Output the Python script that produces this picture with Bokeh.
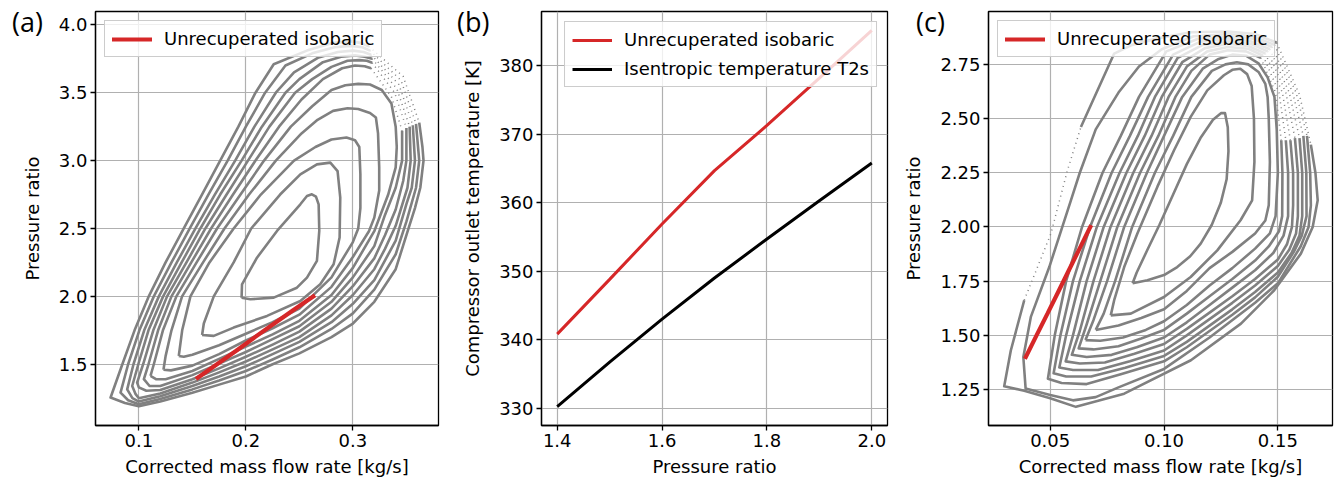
from bokeh.plotting import figure
from bokeh.models import Range1d, FixedTicker, Legend, LegendItem, GridBox, Div
from bokeh.embed import file_html
from bokeh.resources import INLINE

# ---------------- operating line / panel (b) data ----------------
pressure_ratio = [1.4, 1.5, 1.6, 1.7, 1.8, 1.9, 2.0]
t_out_unrecuperated = [340.8, 348.8, 356.9, 364.7, 371.3, 378.2, 385.2]
t_isentropic_t2s = [330.2, 336.7, 343.0, 349.0, 354.7, 360.3, 365.8]
mdot_a_unrecuperated = [0.155, 0.173, 0.191, 0.2085, 0.2265, 0.2445, 0.263]
mdot_c_unrecuperated = [0.0393, 0.0440, 0.0488, 0.0535, 0.0582, 0.0629, 0.0676]

# ---------------- ticks ----------------
a_xticks = [0.1, 0.2, 0.3]
a_xlabels = ["0.1", "0.2", "0.3"]
a_yticks = [1.5, 2.0, 2.5, 3.0, 3.5, 4.0]
a_ylabels = ["1.5", "2.0", "2.5", "3.0", "3.5", "4.0"]
b_xticks = [1.4, 1.6, 1.8, 2.0]
b_xlabels = ["1.4", "1.6", "1.8", "2.0"]
b_yticks = [330, 340, 350, 360, 370, 380]
b_ylabels = ["330", "340", "350", "360", "370", "380"]
c_xticks = [0.05, 0.10, 0.15]
c_xlabels = ["0.05", "0.10", "0.15"]
c_yticks = [1.25, 1.5, 1.75, 2.0, 2.25, 2.5, 2.75]
c_ylabels = ["1.25", "1.50", "1.75", "2.00", "2.25", "2.50", "2.75"]
panel_names = ["(a)", "(b)", "(c)"]

# ---------------- panel (a) map contours (mass flow, pressure ratio) ----------------
a_loop1 = [(0.1960, 1.990), (0.2042, 1.979), (0.2260, 1.991), (0.2477, 2.064), (0.2571, 2.138),
           (0.2664, 2.261), (0.2686, 2.482), (0.2680, 2.678), (0.2655, 2.735), (0.2617, 2.752),
           (0.2571, 2.739), (0.2509, 2.678), (0.2291, 2.482), (0.2104, 2.285), (0.1964, 2.089),
           (0.1960, 1.990)]
a_loop2 = [(0.1591, 1.716), (0.1700, 1.709), (0.1886, 1.770), (0.2198, 1.856), (0.2509, 1.966),
           (0.2695, 2.089), (0.2820, 2.236), (0.2876, 2.433), (0.2882, 2.727), (0.2857, 2.923),
           (0.2789, 2.985), (0.2664, 2.972), (0.2509, 2.899), (0.2320, 2.750), (0.2050, 2.500),
           (0.1886, 2.250), (0.1700, 2.000), (0.1607, 1.800), (0.1591, 1.716)]
a_loop3 = [(0.1373, 1.561), (0.1420, 1.555), (0.1500, 1.570), (0.1750, 1.640), (0.2000, 1.725),
           (0.2250, 1.810), (0.2500, 1.910), (0.2800, 2.140), (0.3000, 2.400), (0.3050, 2.500),
           (0.3070, 2.650), (0.3070, 2.900), (0.3060, 3.100), (0.3020, 3.150), (0.2940, 3.170),
           (0.2800, 3.155), (0.2650, 3.100), (0.2450, 3.000), (0.2140, 2.750), (0.1886, 2.500),
           (0.1660, 2.250), (0.1482, 2.000), (0.1405, 1.750), (0.1373, 1.561)]
a_loop4 = [(0.1230, 1.460), (0.1300, 1.455), (0.1500, 1.490), (0.1750, 1.575), (0.2000, 1.675),
           (0.2250, 1.765), (0.2500, 1.865), (0.2800, 2.070), (0.3000, 2.290), (0.3150, 2.480),
           (0.3200, 2.580), (0.3246, 2.780), (0.3246, 2.950), (0.3235, 3.200), (0.3215, 3.317),
           (0.3160, 3.350), (0.3050, 3.380), (0.2950, 3.385), (0.2815, 3.366), (0.2670, 3.300),
           (0.2520, 3.200), (0.2280, 3.000), (0.2030, 2.750), (0.1800, 2.500), (0.1600, 2.250),
           (0.1404, 2.000), (0.1305, 1.750), (0.1250, 1.560), (0.1230, 1.460)]
a_loop5 = [(0.1109, 1.414), (0.1160, 1.390), (0.1250, 1.390), (0.1500, 1.450), (0.1750, 1.540),
           (0.2000, 1.630), (0.2250, 1.720), (0.2500, 1.820), (0.2800, 2.010), (0.3000, 2.210),
           (0.3200, 2.480), (0.3330, 2.750), (0.3400, 2.950), (0.3410, 3.100), (0.3400, 3.250),
           (0.3360, 3.420), (0.3270, 3.520), (0.3160, 3.560), (0.3050, 3.565), (0.2930, 3.555),
           (0.2800, 3.520), (0.2620, 3.400), (0.2420, 3.250), (0.2170, 3.000), (0.1950, 2.750),
           (0.1731, 2.500), (0.1540, 2.250), (0.1351, 2.000), (0.1225, 1.750), (0.1140, 1.500),
           (0.1109, 1.414)]
a_loop6 = [(0.3460, 3.220), (0.3460, 3.000), (0.3400, 2.800), (0.3300, 2.600), (0.3200, 2.370),
           (0.3000, 2.140), (0.2800, 1.960), (0.2500, 1.780), (0.2250, 1.685), (0.2000, 1.590),
           (0.1750, 1.505), (0.1500, 1.420), (0.1200, 1.340), (0.1100, 1.340), (0.1047, 1.390),
           (0.1090, 1.500), (0.1180, 1.750), (0.1305, 2.000), (0.1490, 2.250), (0.1675, 2.500),
           (0.1880, 2.750), (0.2090, 3.000), (0.2310, 3.250), (0.2520, 3.450), (0.2720, 3.600),
           (0.2900, 3.680), (0.3020, 3.700), (0.3110, 3.695), (0.3170, 3.680)]
a_loop7 = [(0.3500, 3.240), (0.3500, 3.000), (0.3470, 2.850), (0.3400, 2.640), (0.3300, 2.450),
           (0.3200, 2.280), (0.3000, 2.075), (0.2800, 1.910), (0.2500, 1.740), (0.2250, 1.645),
           (0.2000, 1.555), (0.1750, 1.470), (0.1500, 1.390), (0.1200, 1.310), (0.1070, 1.305),
           (0.1000, 1.330), (0.0984, 1.365), (0.1040, 1.500), (0.1135, 1.750), (0.1264, 2.000),
           (0.1445, 2.250), (0.1622, 2.500), (0.1820, 2.750), (0.2020, 3.000), (0.2220, 3.250),
           (0.2460, 3.500), (0.2620, 3.600), (0.2800, 3.690), (0.2950, 3.735), (0.3060, 3.740),
           (0.3130, 3.735), (0.3180, 3.720)]
a_loop8 = [(0.3530, 3.250), (0.3540, 3.000), (0.3510, 2.800), (0.3400, 2.520), (0.3300, 2.350),
           (0.3200, 2.200), (0.3000, 2.010), (0.2800, 1.860), (0.2500, 1.700), (0.2250, 1.610),
           (0.2000, 1.520), (0.1750, 1.440), (0.1500, 1.365), (0.1200, 1.285), (0.1000, 1.250),
           (0.0970, 1.280), (0.0938, 1.340), (0.0995, 1.500), (0.1090, 1.750), (0.1227, 2.000),
           (0.1400, 2.250), (0.1575, 2.500), (0.1760, 2.750), (0.1960, 3.000), (0.2150, 3.250),
           (0.2370, 3.500), (0.2500, 3.600), (0.2720, 3.725), (0.2890, 3.765), (0.3020, 3.775),
           (0.3110, 3.765), (0.3180, 3.750)]
a_loop9 = [(0.3560, 3.260), (0.3580, 3.000), (0.3550, 2.800), (0.3500, 2.680), (0.3400, 2.410),
           (0.3200, 2.120), (0.3000, 1.945), (0.2800, 1.810), (0.2500, 1.665), (0.2250, 1.575),
           (0.2000, 1.485), (0.1750, 1.410), (0.1500, 1.340), (0.1200, 1.265), (0.1000, 1.225),
           (0.0940, 1.250), (0.0891, 1.315), (0.0950, 1.500), (0.1050, 1.750), (0.1187, 2.000),
           (0.1355, 2.250), (0.1529, 2.500), (0.1710, 2.750), (0.1900, 3.000), (0.2080, 3.250),
           (0.2280, 3.500), (0.2450, 3.650), (0.2680, 3.760), (0.2860, 3.800), (0.3000, 3.810),
           (0.3100, 3.800), (0.3170, 3.780)]
a_loop10 = [(0.3590, 3.270), (0.3620, 3.000), (0.3590, 2.800), (0.3500, 2.550), (0.3400, 2.310),
            (0.3200, 2.050), (0.3000, 1.875), (0.2800, 1.760), (0.2500, 1.625), (0.2250, 1.535),
            (0.2000, 1.450), (0.1750, 1.380), (0.1500, 1.315), (0.1200, 1.245), (0.1000, 1.205),
            (0.0900, 1.235), (0.0829, 1.291), (0.0900, 1.500), (0.1005, 1.750), (0.1140, 2.000),
            (0.1305, 2.250), (0.1476, 2.500), (0.1650, 2.750), (0.1830, 3.000), (0.2000, 3.250),
            (0.2180, 3.500), (0.2370, 3.700), (0.2620, 3.790), (0.2830, 3.835), (0.2980, 3.845),
            (0.3090, 3.835), (0.3160, 3.810)]
a_loop11 = [(0.3620, 3.280), (0.3650, 3.100), (0.3660, 3.000), (0.3630, 2.800), (0.3580, 2.650),
            (0.3520, 2.500), (0.3400, 2.200), (0.3200, 1.960), (0.3000, 1.800), (0.2800, 1.700),
            (0.2500, 1.580), (0.2250, 1.500), (0.2000, 1.410), (0.1750, 1.350), (0.1500, 1.290),
            (0.1200, 1.225), (0.1000, 1.190), (0.0870, 1.215), (0.0736, 1.255), (0.0846, 1.500),
            (0.0960, 1.750), (0.1093, 2.000), (0.1250, 2.250), (0.1420, 2.500), (0.1590, 2.750),
            (0.1760, 3.000), (0.1930, 3.250), (0.2090, 3.500), (0.2260, 3.710), (0.2570, 3.810),
            (0.2800, 3.865), (0.2980, 3.880), (0.3080, 3.865), (0.3150, 3.840)]
# sparsely sampled (dotted) stretches of the outer contours, near the choke side
a_sparse6 = [(0.3170, 3.680), (0.3360, 3.470), (0.3460, 3.220)]
a_sparse7 = [(0.3180, 3.720), (0.3390, 3.500), (0.3500, 3.240)]
a_sparse8 = [(0.3180, 3.750), (0.3410, 3.530), (0.3530, 3.250)]
a_sparse9 = [(0.3170, 3.780), (0.3430, 3.560), (0.3560, 3.260)]
a_sparse10 = [(0.3160, 3.810), (0.3450, 3.590), (0.3590, 3.270)]
a_sparse11 = [(0.3150, 3.840), (0.3470, 3.620), (0.3620, 3.280)]

# ---------------- panel (c) map contours ----------------
c_loop1 = [(0.0862, 1.740), (0.0927, 1.754), (0.1000, 1.778), (0.1058, 1.815), (0.1115, 1.865),
           (0.1161, 1.923), (0.1210, 2.010), (0.1249, 2.110), (0.1275, 2.220), (0.1283, 2.350),
           (0.1280, 2.460), (0.1268, 2.525), (0.1250, 2.525), (0.1215, 2.495), (0.1160, 2.410),
           (0.1100, 2.290), (0.1040, 2.150), (0.0980, 2.010), (0.0925, 1.890), (0.0880, 1.790),
           (0.0862, 1.740)]
c_loop2 = [(0.0766, 1.592), (0.0854, 1.600), (0.1000, 1.677), (0.1117, 1.769), (0.1234, 1.892),
           (0.1336, 2.031), (0.1387, 2.123), (0.1397, 2.300), (0.1395, 2.500), (0.1385, 2.650),
           (0.1365, 2.705), (0.1335, 2.730), (0.1300, 2.725), (0.1263, 2.700), (0.1190, 2.630),
           (0.1117, 2.508), (0.1044, 2.354), (0.0971, 2.186), (0.0883, 1.970), (0.0825, 1.815),
           (0.0781, 1.662), (0.0766, 1.592)]
c_loop3 = [(0.0700, 1.525), (0.0800, 1.545), (0.0900, 1.580), (0.1000, 1.620), (0.1100, 1.705),
           (0.1200, 1.810), (0.1300, 1.885), (0.1400, 1.970), (0.1445, 2.030), (0.1460, 2.100),
           (0.1465, 2.300), (0.1460, 2.500), (0.1455, 2.600), (0.1445, 2.660), (0.1415, 2.715),
           (0.1370, 2.750), (0.1320, 2.760), (0.1270, 2.750), (0.1210, 2.720), (0.1120, 2.600),
           (0.1040, 2.420), (0.0960, 2.250), (0.0860, 2.000), (0.0785, 1.750), (0.0735, 1.600),
           (0.0700, 1.525)]
c_loop4 = [(0.0655, 1.478), (0.0720, 1.475), (0.0820, 1.490), (0.0920, 1.525), (0.1000, 1.565),
           (0.1100, 1.640), (0.1200, 1.730), (0.1300, 1.810), (0.1400, 1.900), (0.1465, 1.970),
           (0.1490, 2.050), (0.1500, 2.250), (0.1495, 2.450), (0.1485, 2.600), (0.1455, 2.690),
           (0.1415, 2.755), (0.1360, 2.790), (0.1300, 2.795), (0.1240, 2.775), (0.1170, 2.730),
           (0.1080, 2.600), (0.1000, 2.420), (0.0925, 2.250), (0.0825, 2.000), (0.0750, 1.750),
           (0.0690, 1.570), (0.0655, 1.478)]
c_loop5 = [(0.1515, 2.400), (0.1520, 2.250), (0.1519, 2.050), (0.1505, 1.980), (0.1460, 1.910),
           (0.1400, 1.845), (0.1300, 1.760), (0.1200, 1.680), (0.1100, 1.600), (0.1000, 1.525),
           (0.0900, 1.485), (0.0800, 1.450), (0.0690, 1.435), (0.0625, 1.440), (0.0660, 1.550),
           (0.0720, 1.750), (0.0795, 2.000), (0.0895, 2.250), (0.0975, 2.420), (0.1050, 2.600),
           (0.1120, 2.720), (0.1200, 2.795), (0.1280, 2.815), (0.1360, 2.810), (0.1425, 2.780)]
c_loop6 = [(0.1535, 2.400), (0.1545, 2.250), (0.1545, 2.050), (0.1525, 1.960), (0.1480, 1.880),
           (0.1400, 1.800), (0.1300, 1.720), (0.1200, 1.640), (0.1100, 1.560), (0.1000, 1.490),
           (0.0880, 1.445), (0.0770, 1.410), (0.0660, 1.400), (0.0595, 1.410), (0.0630, 1.520),
           (0.0690, 1.750), (0.0765, 2.000), (0.0865, 2.250), (0.0945, 2.420), (0.1020, 2.600),
           (0.1100, 2.740), (0.1190, 2.810), (0.1280, 2.830), (0.1370, 2.822), (0.1435, 2.790)]
c_loop7 = [(0.1555, 2.400), (0.1567, 2.250), (0.1567, 2.100), (0.1562, 2.000), (0.1540, 1.920),
           (0.1500, 1.850), (0.1400, 1.760), (0.1300, 1.680), (0.1200, 1.605), (0.1100, 1.530),
           (0.1000, 1.460), (0.0870, 1.415), (0.0740, 1.375), (0.0630, 1.370), (0.0568, 1.380),
           (0.0600, 1.500), (0.0660, 1.750), (0.0735, 2.000), (0.0835, 2.250), (0.0915, 2.420),
           (0.0990, 2.600), (0.1080, 2.760), (0.1180, 2.825), (0.1280, 2.845), (0.1370, 2.835),
           (0.1445, 2.800)]
c_loop8 = [(0.1575, 2.410), (0.1588, 2.250), (0.1588, 2.050), (0.1580, 1.970), (0.1550, 1.895),
           (0.1500, 1.820), (0.1400, 1.730), (0.1300, 1.650), (0.1200, 1.575), (0.1100, 1.500),
           (0.1000, 1.430), (0.0850, 1.380), (0.0710, 1.340), (0.0600, 1.340), (0.0540, 1.352),
           (0.0570, 1.500), (0.0630, 1.750), (0.0705, 2.000), (0.0805, 2.250), (0.0885, 2.420),
           (0.0960, 2.600), (0.1060, 2.780), (0.1170, 2.840), (0.1280, 2.857), (0.1380, 2.845),
           (0.1455, 2.810)]
c_loop9 = [(0.1595, 2.410), (0.1607, 2.250), (0.1607, 2.050), (0.1595, 1.960), (0.1560, 1.880),
           (0.1500, 1.790), (0.1400, 1.700), (0.1300, 1.620), (0.1200, 1.545), (0.1100, 1.470),
           (0.1000, 1.405), (0.0830, 1.350), (0.0680, 1.310), (0.0570, 1.310), (0.0515, 1.325),
           (0.0545, 1.500), (0.0600, 1.750), (0.0675, 2.000), (0.0770, 2.250), (0.0850, 2.420),
           (0.0930, 2.600), (0.1040, 2.795), (0.1160, 2.855), (0.1280, 2.868), (0.1380, 2.857),
           (0.1465, 2.820)]
c_loop10 = [(0.1612, 2.420), (0.1625, 2.250), (0.1626, 2.050), (0.1605, 1.960), (0.1570, 1.885),
            (0.1500, 1.770), (0.1400, 1.675), (0.1300, 1.595), (0.1200, 1.520), (0.1100, 1.445),
            (0.1000, 1.380), (0.0810, 1.320), (0.0660, 1.275), (0.0550, 1.280), (0.0490, 1.300),
            (0.0520, 1.500), (0.0570, 1.750), (0.0640, 2.000), (0.0730, 2.250), (0.0810, 2.420),
            (0.0890, 2.600), (0.1010, 2.810), (0.1150, 2.868), (0.1280, 2.878), (0.1390, 2.868),
            (0.1475, 2.830)]
c_loop11 = [(0.1628, 2.420), (0.1642, 2.250), (0.1645, 2.100), (0.1635, 2.000), (0.1600, 1.910),
            (0.1500, 1.740), (0.1400, 1.650), (0.1200, 1.490), (0.1000, 1.345), (0.0800, 1.260),
            (0.0700, 1.215), (0.0600, 1.200), (0.0500, 1.225), (0.0392, 1.255), (0.0382, 1.400),
            (0.0415, 1.585), (0.0496, 1.815), (0.0591, 2.123), (0.0630, 2.250), (0.0700, 2.450),
            (0.0800, 2.620), (0.0890, 2.740), (0.0990, 2.820), (0.1130, 2.880), (0.1280, 2.890),
            (0.1390, 2.880), (0.1485, 2.840)]
c_loop12_lower = [(0.1645, 2.380), (0.1665, 2.250), (0.1675, 2.123), (0.1653, 2.000), (0.1601, 1.877),
                  (0.1484, 1.708), (0.1338, 1.554), (0.1118, 1.385), (0.0825, 1.231), (0.0613, 1.170),
                  (0.0500, 1.210), (0.0386, 1.244), (0.0298, 1.265), (0.0327, 1.430), (0.0386, 1.662)]
c_loop12_upper = [(0.0635, 2.461), (0.0781, 2.800), (0.0860, 2.840), (0.0970, 2.870), (0.1120, 2.898),
                  (0.1280, 2.902), (0.1400, 2.890), (0.1495, 2.850)]
c_sparse5 = [(0.1425, 2.780), (0.1490, 2.620), (0.1515, 2.400)]
c_sparse6 = [(0.1435, 2.790), (0.1505, 2.620), (0.1535, 2.400)]
c_sparse7 = [(0.1445, 2.800), (0.1520, 2.620), (0.1555, 2.400)]
c_sparse8 = [(0.1455, 2.810), (0.1535, 2.620), (0.1575, 2.410)]
c_sparse9 = [(0.1465, 2.820), (0.1550, 2.620), (0.1595, 2.410)]
c_sparse10 = [(0.1475, 2.830), (0.1565, 2.620), (0.1612, 2.420)]
c_sparse11 = [(0.1485, 2.840), (0.1580, 2.620), (0.1628, 2.420)]
c_sparse12_right = [(0.1495, 2.850), (0.1595, 2.610), (0.1645, 2.380)]
c_sparse12_left = [(0.0386, 1.662), (0.0503, 1.969), (0.0576, 2.262), (0.0635, 2.461)]

# ---------------- styling ----------------
GRAY = "#808080"
RED = "#d62728"
FONT = "DejaVu Sans"
FS = "18px"


def split(loops):
    return [[p[0] for p in lp] for lp in loops], [[p[1] for p in lp] for lp in loops]


def base_fig(width, bl, br, xr, yr, xt, xl, yt, yl, xlab, ylab):
    p = figure(width=width, height=487, x_range=Range1d(*xr), y_range=Range1d(*yr),
               output_backend="svg", toolbar_location=None,
               min_border_left=bl, min_border_right=br, min_border_top=11, min_border_bottom=62,
               background_fill_color="white", border_fill_color="white")
    p.xaxis.ticker = FixedTicker(ticks=xt)
    p.yaxis.ticker = FixedTicker(ticks=yt)
    p.xaxis.major_label_overrides = dict(zip(xt, xl))
    p.yaxis.major_label_overrides = dict(zip(yt, yl))
    p.xaxis.axis_label = xlab
    p.yaxis.axis_label = ylab
    for ax in p.axis:
        ax.major_label_text_font = FONT
        ax.major_label_text_font_size = FS
        ax.major_label_text_color = "black"
        ax.axis_label_text_font = FONT
        ax.axis_label_text_font_size = FS
        ax.axis_label_text_font_style = "normal"
        ax.axis_label_text_color = "black"
        ax.axis_line_color = "black"
        ax.axis_line_width = 1.3
        ax.major_tick_line_color = "black"
        ax.major_tick_line_width = 1.3
        ax.major_tick_out = 5
        ax.major_tick_in = 0
        ax.minor_tick_out = 0
        ax.minor_tick_in = 0
        ax.major_label_standoff = 3
    p.xaxis.axis_label_standoff = 6
    p.yaxis.axis_label_standoff = 13
    p.grid.grid_line_color = "#b0b0b0"
    p.grid.grid_line_width = 1.2
    p.outline_line_color = "black"
    p.outline_line_width = 1.3
    p.outline_line_alpha = 1.0
    return p


def add_legend(p, items, location, margin):
    leg = Legend(items=items, location=location, margin=margin,
                 label_text_font=FONT, label_text_font_size=FS, label_text_color="black",
                 glyph_width=40, glyph_height=20, label_height=20, label_standoff=12,
                 padding=7, spacing=8, border_line_color="#cccccc", border_line_width=1.2,
                 border_line_alpha=1.0, background_fill_color="white", background_fill_alpha=0.8)
    p.add_layout(leg)


def panel_tag(text, left):
    html = ('<div style="padding:3px 0 0 %dpx;font-family:\'Open Sans\';font-size:27px;'
            'line-height:27px;color:black;white-space:nowrap;">%s</div>' % (left, text))
    return Div(text=html, width=60, height=40, align="start",
               styles={"position": "relative", "z-index": "10"})


# ---------------- panel (a) ----------------
pa = base_fig(445, 95, 7, (0.0595, 0.380), (1.049, 4.098), a_xticks, a_xlabels, a_yticks, a_ylabels,
              "Corrected mass flow rate [kg/s]", "Pressure ratio")
xs, ys = split([a_loop1, a_loop2, a_loop3, a_loop4, a_loop5, a_loop6, a_loop7, a_loop8,
                a_loop9, a_loop10, a_loop11])
pa.multi_line(xs, ys, line_color=GRAY, line_width=2.6, line_join="round")
xs, ys = split([a_sparse6, a_sparse7, a_sparse8, a_sparse9, a_sparse10, a_sparse11])
pa.multi_line(xs, ys, line_color=GRAY, line_width=1.5, line_dash="1 4")
ra = pa.line(mdot_a_unrecuperated, pressure_ratio, line_color=RED, line_width=4.2, line_cap="square")
add_legend(pa, [LegendItem(label="Unrecuperated isobaric", renderers=[ra])], "top_left", 9)

# ---------------- panel (b) ----------------
pb = base_fig(445, 96, 3, (1.37, 2.03), (327.45, 387.95), b_xticks, b_xlabels, b_yticks, b_ylabels,
              "Pressure ratio", "Compressor outlet temperature [K]")
r1 = pb.line(pressure_ratio, t_out_unrecuperated, line_color=RED, line_width=3)
r2 = pb.line(pressure_ratio, t_isentropic_t2s, line_color="black", line_width=3)
add_legend(pb, [LegendItem(label="Unrecuperated isobaric", renderers=[r1]),
                LegendItem(label="Isentropic temperature T2s", renderers=[r2])], "top_right", 10)

# ---------------- panel (c) ----------------
pc = base_fig(446, 98, 4, (0.0229, 0.174), (1.084, 2.994), c_xticks, c_xlabels, c_yticks, c_ylabels,
              "Corrected mass flow rate [kg/s]", "Pressure ratio")
xs, ys = split([c_loop1, c_loop2, c_loop3, c_loop4, c_loop5, c_loop6, c_loop7, c_loop8, c_loop9,
                c_loop10, c_loop11, c_loop12_lower, c_loop12_upper])
pc.multi_line(xs, ys, line_color=GRAY, line_width=2.6, line_join="round")
xs, ys = split([c_sparse5, c_sparse6, c_sparse7, c_sparse8, c_sparse9, c_sparse10, c_sparse11,
                c_sparse12_right, c_sparse12_left])
pc.multi_line(xs, ys, line_color=GRAY, line_width=1.5, line_dash="1 4")
rc = pc.line(mdot_c_unrecuperated, pressure_ratio, line_color=RED, line_width=4.2, line_cap="square")
add_legend(pc, [LegendItem(label="Unrecuperated isobaric", renderers=[rc])], "top_left", 9)

layout = GridBox(children=[(pa, 0, 0), (panel_tag(panel_names[0], 7), 0, 0),
                           (pb, 0, 1), (panel_tag(panel_names[1], 7), 0, 1),
                           (pc, 0, 2), (panel_tag(panel_names[2], 21), 0, 2)],
                 spacing=0)
open("out.html", "w").write(file_html(layout, INLINE))
